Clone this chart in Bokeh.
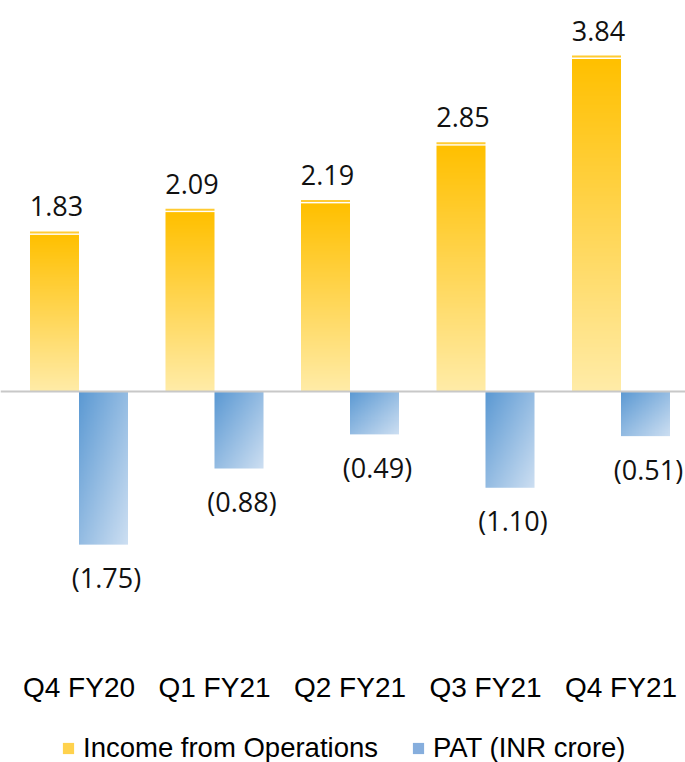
import numpy as np
from bokeh.plotting import figure
from bokeh.models import ColumnDataSource, Range1d, Span, Legend, LegendItem
from bokeh.core.properties import value
from bokeh.embed import file_html
from bokeh.resources import INLINE

# ---------------- data ----------------
categories = ["Q4 FY20", "Q1 FY21", "Q2 FY21", "Q3 FY21", "Q4 FY21"]
income = [1.83, 2.09, 2.19, 2.85, 3.84]
pat = [-1.75, -0.88, -0.49, -1.10, -0.51]
series_names = ["Income from Operations", "PAT (INR crore)"]

# ---------------- layout constants ----------------
W, H = 685, 762
PX_Y = 87.5            # pixels per unit on y
BASE = 391             # px from top of frame to zero line
Y_MAX = BASE / PX_Y
Y_MIN = -(H - BASE) / PX_Y
PX_X = 135.5           # pixels per category
X0 = 78.5              # px from frame left to first group centre
X_MIN = -X0 / PX_X
X_MAX = (W - X0) / PX_X
BW = 49 / PX_X         # bar width in data units

idx = np.arange(len(categories), dtype=float)
inc = np.array(income)
pt = np.array(pat)


def rgba(arr):
    h, w, _ = arr.shape
    img = np.empty((h, w), dtype=np.uint32)
    v = img.view(dtype=np.uint8).reshape((h, w, 4))
    v[..., :3] = np.clip(arr, 0, 255).astype(np.uint8)
    v[..., 3] = 255
    return img


# yellow vertical gradient (row 0 = bottom)
GH, GW = 256, 8
t = np.linspace(0, 1, GH)[:, None, None] * np.ones((1, GW, 1))
pale = np.array([255, 236, 168], dtype=float)
gold = np.array([255, 192, 0], dtype=float)
ygrad = rgba(pale + (gold - pale) * t)

# blue diagonal gradient (dark top-left -> light bottom-right)
BH, BWI = 256, 64
r = np.arange(BH)[:, None]
c = np.arange(BWI)[None, :]
u = c / (BWI - 1)
vt = 1 - r / (BH - 1)
tb = np.clip((u + vt) / 2, 0, 1)[..., None]
dark = np.array([91, 153, 211], dtype=float)
light = np.array([205, 223, 242], dtype=float)
bgrad = rgba(dark + (light - dark) * tb)

p = figure(width=W, height=H, x_range=Range1d(X_MIN, X_MAX), y_range=Range1d(Y_MIN, Y_MAX),
           output_backend="svg", toolbar_location=None,
           x_axis_location=None, y_axis_location=None, min_border=0,
           outline_line_color=None, background_fill_color="white")
p.grid.visible = False

GAP = 3.5 / PX_Y
STRIPE = 2.0 / PX_Y

# income bars (gradient image)
src_inc = ColumnDataSource(dict(
    image=[ygrad] * len(inc), x=idx - BW, y=np.zeros_like(inc),
    dw=[BW] * len(inc), dh=inc - GAP))
p.image_rgba(image="image", x="x", y="y", dw="dw", dh="dh", source=src_inc)
# top stripe of income bars
p.vbar(x=idx - BW / 2, width=BW, top=inc, bottom=inc - STRIPE,
       fill_color="#FFCB33", line_color=None)

# PAT bars
src_pat = ColumnDataSource(dict(
    image=[bgrad] * len(pt), x=idx, y=pt,
    dw=[BW] * len(pt), dh=-pt))
p.image_rgba(image="image", x="x", y="y", dw="dw", dh="dh", source=src_pat)

# zero line
p.add_layout(Span(location=0, dimension="width", line_color="#C8C8C8", line_width=2))

# value labels
p.text(x=idx - BW / 2, y=inc, text=[f"{v:.2f}" for v in inc],
       x_offset=2, y_offset=-25, text_align="center", text_baseline="alphabetic",
       text_font=value("Open Sans"), text_font_size="27px", text_color="#111111")
p.text(x=idx + BW / 2, y=pt, text=[f"({abs(v):.2f})" for v in pt],
       x_offset=3, y_offset=33, text_align="center", text_baseline="alphabetic",
       text_font=value("Open Sans"), text_font_size="27px", text_color="#111111")

# category labels
p.text(x=idx, y=[Y_MIN + 75 / PX_Y] * len(idx), text=categories,
       text_align="center", text_baseline="alphabetic",
       text_font=value("Liberation Sans"), text_font_size="28px", text_color="black")

# legend (zero-height swatch renderers)
r1 = p.vbar(x=[0], top=[0], bottom=[0], width=0, fill_color="#FFD24D", line_color=None)
r2 = p.vbar(x=[0], top=[0], bottom=[0], width=0, fill_color="#86AEDD", line_color=None)
legend = Legend(items=[LegendItem(label=series_names[0], renderers=[r1]),
                       LegendItem(label=series_names[1], renderers=[r2])],
                orientation="horizontal", location=(61, -2),
                glyph_width=14, glyph_height=14, label_standoff=8, spacing=33,
                padding=0, margin=0, border_line_color=None, background_fill_alpha=0,
                label_text_font="Liberation Sans", label_text_font_size="27.5px",
                label_text_color="black")
p.add_layout(legend)

open("out.html", "w").write(file_html(p, INLINE))
